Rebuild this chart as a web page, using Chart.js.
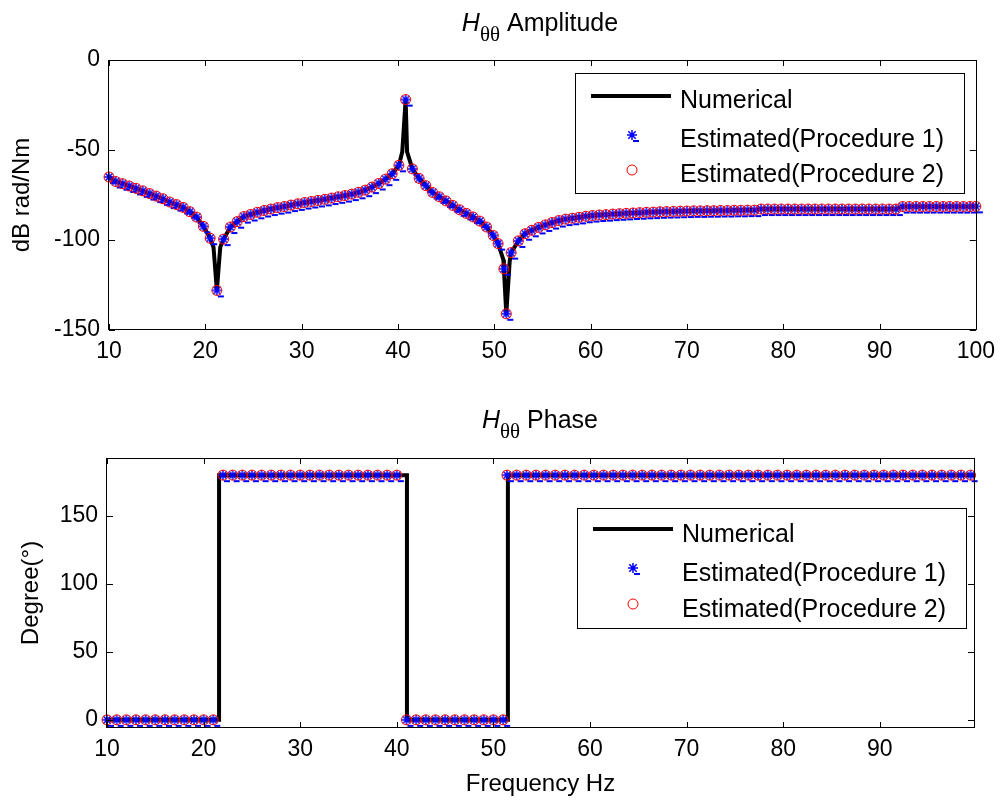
<!DOCTYPE html>
<html>
<head>
<meta charset="utf-8">
<script src="https://cdn.jsdelivr.net/npm/chart.js@4.4.1/dist/chart.umd.min.js"></script>
<style>
  body { margin: 0; background: #fff; }
  canvas { position: absolute; left: 0; }
  #amp { top: 0; }
  #phase { top: 400px; }
</style>
</head>
<body>
<canvas id="amp" width="1003" height="400"></canvas>
<canvas id="phase" width="1003" height="401"></canvas>
<script>
// amplitude: estimated points (both procedures sit on the same values)
const freqEst = [10.0, 10.7, 11.4, 12.1, 12.8, 13.5, 14.2, 14.9, 15.6, 16.3,
  17.0, 17.7, 18.4, 19.1, 19.8, 20.5, 21.2, 21.9, 22.6, 23.3,
  24.0, 24.7, 25.4, 26.1, 26.8, 27.5, 28.2, 28.9, 29.6, 30.3,
  31.0, 31.7, 32.4, 33.1, 33.8, 34.5, 35.2, 35.9, 36.6, 37.3,
  38.0, 38.7, 39.4, 40.1, 40.8, 41.5, 42.2, 42.9, 43.6, 44.3,
  45.0, 45.7, 46.4, 47.1, 47.8, 48.5, 49.2, 49.9,
  50.4, 51.0, 51.25, 51.75, 52.5,
  53.2, 53.9, 54.6, 55.3, 56.0, 56.7, 57.4, 58.1, 58.8, 59.5,
  60.2, 60.9, 61.6, 62.3, 63.0, 63.7, 64.4, 65.1, 65.8, 66.5,
  67.2, 67.9, 68.6, 69.3, 70.0, 70.7, 71.4, 72.1, 72.8, 73.5,
  74.2, 74.9, 75.6, 76.3, 77.0, 77.7, 78.4, 79.1, 79.8, 80.5,
  81.2, 81.9, 82.6, 83.3, 84.0, 84.7, 85.4, 86.1, 86.8, 87.5,
  88.2, 88.9, 89.6, 90.3, 91.0, 91.7, 92.4, 93.1, 93.8, 94.5,
  95.2, 95.9, 96.6, 97.3, 98.0, 98.7, 99.4, 100.0];
const ampEst = [-65, -67.5, -68.7, -70, -71.3, -72.7, -74.2, -75.6, -77.1, -78.9,
  -80.3, -81.9, -84.3, -87.3, -92.4, -99, -128, -99.5, -92.8, -89.8,
  -87, -85.8, -84.6, -83.6, -82.8, -82, -81.4, -80.6, -79.9, -79.2,
  -78.6, -78, -77.4, -76.7, -76, -75.3, -74.5, -73.5, -72.3, -70.6,
  -68.6, -66.2, -63.2, -58.5, -22, -60.5, -65.8, -69.8, -73.6, -76,
  -78.3, -80.8, -83.2, -85.2, -87.2, -89.5, -92.8, -97.5,
  -102, -116, -141, -107, -100.5,
  -96.5, -94.6, -93, -91.6, -90.3, -89.2, -88.4, -87.9, -87.4, -86.8,
  -86.4, -86.1, -85.9, -85.6, -85.4, -85.2, -85, -84.8, -84.6, -84.5,
  -84.3, -84.2, -84.1, -84, -83.9, -83.8, -83.8, -83.7, -83.7, -83.6,
  -83.6, -83.5, -83.5, -83.4, -83.4, -82.8, -82.8, -82.8, -82.8, -82.8,
  -82.8, -82.8, -82.8, -82.8, -82.8, -82.8, -82.8, -82.8, -82.8, -82.8,
  -82.8, -82.8, -82.8, -82.8, -82.8, -82.8, -81.4, -81.4, -81.4, -81.4,
  -81.4, -81.4, -81.4, -81.4, -81.4, -81.4, -81.4, -81.3];

// extra points of the numerical curve around the resonance / anti-resonances
const numDetailFreq = [20.85, 21.55, 40.45, 40.95, 50.95, 51.6];
const numDetailAmp = [-104, -104, -51, -51, -111, -112];

// phase
const phaseFreq = [10, 11, 12, 13, 14, 15, 16, 17, 18, 19, 20, 21,
  22, 23, 24, 25, 26, 27, 28, 29, 30, 31, 32, 33, 34, 35, 36, 37, 38, 39, 40,
  41, 42, 43, 44, 45, 46, 47, 48, 49, 50, 51,
  51.4, 52.4, 53.4, 54.4, 55.4, 56.4, 57.4, 58.4, 59.4, 60.4,
  61.4, 62.4, 63.4, 64.4, 65.4, 66.4, 67.4, 68.4, 69.4, 70.4,
  71.4, 72.4, 73.4, 74.4, 75.4, 76.4, 77.4, 78.4, 79.4, 80.4,
  81.4, 82.4, 83.4, 84.4, 85.4, 86.4, 87.4, 88.4, 89.4, 90.4,
  91.4, 92.4, 93.4, 94.4, 95.4, 96.4, 97.4, 98.4, 99.4];
const phaseEst = [0, 0, 0, 0, 0, 0, 0, 0, 0, 0, 0, 0,
  180, 180, 180, 180, 180, 180, 180, 180, 180, 180, 180, 180, 180, 180, 180, 180, 180, 180, 180,
  0, 0, 0, 0, 0, 0, 0, 0, 0, 0, 0,
  180, 180, 180, 180, 180, 180, 180, 180, 180, 180,
  180, 180, 180, 180, 180, 180, 180, 180, 180, 180,
  180, 180, 180, 180, 180, 180, 180, 180, 180, 180,
  180, 180, 180, 180, 180, 180, 180, 180, 180, 180,
  180, 180, 180, 180, 180, 180, 180, 180, 180];
const numPhaseFreq = [10, 21.6, 21.6, 41.05, 41.05, 51.5, 51.5, 99.75];
const numPhaseDeg = [0, 0, 180, 180, 0, 0, 180, 180];

// tick labels
const ampXTicks = [10, 20, 30, 40, 50, 60, 70, 80, 90, 100];
const ampYTicks = [-150, -100, -50, 0];
const phaseXTicks = [10, 20, 30, 40, 50, 60, 70, 80, 90];
const phaseYTicks = [0, 50, 100, 150];

const seriesNames = ['Numerical', 'Estimated(Procedure 1)', 'Estimated(Procedure 2)'];

const FONT = '"Liberation Sans", Arial, sans-serif';
Chart.defaults.font.family = FONT;
Chart.defaults.color = '#000';

function pts(xs, ys) { return xs.map((x, i) => ({ x: x, y: ys[i] })); }

// matlab-ish '*' marker, with the little dash the export left next to it
function makeStar() {
  const c = document.createElement('canvas');
  c.width = 20; c.height = 18;
  const g = c.getContext('2d');
  const cx = 10, cy = 9, r = 5, d = 3.7;
  g.strokeStyle = '#0000ff';
  g.lineWidth = 1.5;
  g.beginPath();
  g.moveTo(cx - r, cy); g.lineTo(cx + r, cy);
  g.moveTo(cx, cy - r); g.lineTo(cx, cy + r);
  g.moveTo(cx - d, cy - d); g.lineTo(cx + d, cy + d);
  g.moveTo(cx - d, cy + d); g.lineTo(cx + d, cy - d);
  g.stroke();
  g.lineWidth = 2;
  g.beginPath();
  g.moveTo(cx + 1, cy + 6); g.lineTo(cx + 7, cy + 6);
  g.stroke();
  return c;
}
const star = makeStar();

// box round the axes with inward ticks on all four sides
const axisBox = {
  id: 'axisBox',
  afterDatasetsDraw(chart) {
    const { ctx, chartArea: a, scales } = chart;
    const L = 6;
    ctx.save();
    ctx.strokeStyle = '#000';
    ctx.lineWidth = 1;
    ctx.strokeRect(Math.round(a.left) - 0.5, Math.round(a.top) + 0.5,
      Math.round(a.right - a.left) + 1, Math.round(a.bottom - a.top) - 1);
    ctx.beginPath();
    scales.x.ticks.forEach(t => {
      const px = Math.round(scales.x.getPixelForValue(t.value)) + 0.5;
      ctx.moveTo(px, a.bottom); ctx.lineTo(px, a.bottom - L);
      ctx.moveTo(px, a.top); ctx.lineTo(px, a.top + L);
    });
    scales.y.ticks.forEach(t => {
      const py = Math.round(scales.y.getPixelForValue(t.value)) + 0.5;
      ctx.moveTo(a.left, py); ctx.lineTo(a.left + L, py);
      ctx.moveTo(a.right, py); ctx.lineTo(a.right - L, py);
    });
    ctx.stroke();
    ctx.restore();
  }
};

// title "H_θθ ..." with subscript
const hTitle = {
  id: 'hTitle',
  afterDraw(chart, args, o) {
    const ctx = chart.ctx;
    ctx.save();
    ctx.fillStyle = '#000';
    ctx.textBaseline = 'alphabetic';
    const fH = 'italic 25px ' + FONT, fSub = '21px "Liberation Serif", "DejaVu Serif", serif', fMain = '25px ' + FONT;
    ctx.font = fH; const wH = ctx.measureText('H').width;
    ctx.font = fSub; const wS = ctx.measureText('θθ').width;
    ctx.font = fMain; const wM = ctx.measureText(' ' + o.text).width;
    let x = o.cx - (wH + wS + wM) / 2;
    ctx.font = fH; ctx.fillText('H', x, o.y); x += wH;
    ctx.font = fSub; ctx.fillText('θθ', x, o.y + 10); x += wS;
    ctx.font = fMain; ctx.fillText(' ' + o.text, x, o.y);
    ctx.restore();
  }
};

// legend box inside the axes
const boxLegend = {
  id: 'boxLegend',
  afterDraw(chart, args, o) {
    const ctx = chart.ctx;
    ctx.save();
    ctx.fillStyle = '#fff';
    ctx.fillRect(o.x, o.y, o.w, o.h);
    ctx.strokeStyle = '#000';
    ctx.lineWidth = 1;
    ctx.strokeRect(o.x + 0.5, o.y + 0.5, o.w, o.h);
    ctx.font = '25px ' + FONT;
    ctx.textBaseline = 'alphabetic';
    chart.data.datasets.forEach((ds, i) => {
      const y = o.rows[i];
      if (ds.showLine) {
        ctx.strokeStyle = ds.borderColor;
        ctx.lineWidth = ds.borderWidth;
        ctx.beginPath(); ctx.moveTo(o.x1, y); ctx.lineTo(o.x2, y); ctx.stroke();
      } else if (ds.pointStyle === 'circle') {
        ctx.strokeStyle = ds.borderColor;
        ctx.lineWidth = 1;
        ctx.beginPath(); ctx.arc(o.mx, y, ds.pointRadius, 0, Math.PI * 2); ctx.stroke();
      } else {
        ctx.drawImage(ds.pointStyle, o.mx - ds.pointStyle.width / 2, y - ds.pointStyle.height / 2);
      }
      ctx.fillStyle = '#000';
      ctx.fillText(ds.label, o.tx, y + o.dy);
    });
    ctx.restore();
  }
};

function makeChart(id, cfg) {
  const setTicks = list => s => { s.ticks = list.map(v => ({ value: v })); };
  return new Chart(document.getElementById(id), {
    type: 'scatter',
    data: {
      datasets: [{
        label: seriesNames[0],
        data: cfg.line,
        showLine: true,
        borderColor: '#000',
        borderWidth: 4,
        pointRadius: 0,
        tension: 0,
        clip: false,
        order: 3
      }, {
        label: seriesNames[1],
        data: cfg.est,
        pointStyle: star,
        pointRadius: 5,
        clip: false,
        order: 2
      }, {
        label: seriesNames[2],
        data: cfg.est,
        pointStyle: 'circle',
        pointRadius: 5,
        borderColor: '#ff0000',
        backgroundColor: 'rgba(0,0,0,0)',
        borderWidth: 1,
        clip: false,
        order: 1
      }]
    },
    options: {
      responsive: false,
      animation: false,
      devicePixelRatio: 1,
      events: [],
      layout: { padding: cfg.padding },
      scales: {
        x: {
          type: 'linear',
          min: cfg.xMin, max: cfg.xMax,
          afterBuildTicks: setTicks(cfg.xTicks),
          afterFit: s => { s.height = cfg.xHeight; },
          grid: { display: false, drawTicks: false },
          border: { display: false },
          ticks: { font: { size: 23 }, padding: 8, autoSkip: false, maxRotation: 0 },
          title: cfg.xTitle ? { display: true, text: cfg.xTitle, font: { size: 24 }, padding: { top: 0, bottom: 2 } } : { display: false }
        },
        y: {
          type: 'linear',
          min: cfg.yMin, max: cfg.yMax,
          afterBuildTicks: setTicks(cfg.yTicks),
          afterFit: s => { s.width = cfg.yWidth; },
          grid: { display: false, drawTicks: false },
          border: { display: false },
          ticks: { font: { size: 23 }, padding: 9 },
          title: { display: true, text: cfg.yTitle, font: { size: 24 }, padding: { top: cfg.yTitlePad, bottom: 0 } }
        }
      },
      plugins: {
        legend: { display: false },
        tooltip: { enabled: false },
        hTitle: cfg.title,
        boxLegend: cfg.legend
      }
    },
    plugins: [axisBox, hTitle, boxLegend]
  });
}

// numerical amplitude curve = estimated points plus the extra detail points, in frequency order
const numAmp = pts(freqEst, ampEst).concat(pts(numDetailFreq, numDetailAmp)).sort((a, b) => a.x - b.x);

makeChart('amp', {
  line: numAmp,
  est: pts(freqEst, ampEst),
  xMin: 10, xMax: 100, xTicks: ampXTicks,
  yMin: -150, yMax: 0, yTicks: ampYTicks,
  yTitle: 'dB rad/Nm', yTitlePad: 8,
  xHeight: 70, yWidth: 109,
  padding: { left: 0, right: 26, top: 60, bottom: 0 },
  title: { text: 'Amplitude', cx: 540, y: 31 },
  legend: { x: 575, y: 73, w: 389, h: 120, x1: 591, x2: 671, mx: 632, tx: 680, rows: [96, 135, 170], dy: 12 }
});

makeChart('phase', {
  line: pts(numPhaseFreq, numPhaseDeg),
  est: pts(phaseFreq, phaseEst),
  xMin: 10, xMax: 99.75, xTicks: phaseXTicks,
  yMin: -6, yMax: 192.6, yTicks: phaseYTicks,
  yTitle: 'Degree(°)', yTitlePad: 17,
  xTitle: 'Frequency Hz',
  xHeight: 73, yWidth: 107,
  padding: { left: 0, right: 29, top: 58, bottom: 0 },
  title: { text: 'Phase', cx: 540, y: 28 },
  legend: { x: 577, y: 108, w: 389, h: 120, x1: 593, x2: 673, mx: 633, tx: 682, rows: [129, 168, 204], dy: 13 }
});
</script>
</body>
</html>
